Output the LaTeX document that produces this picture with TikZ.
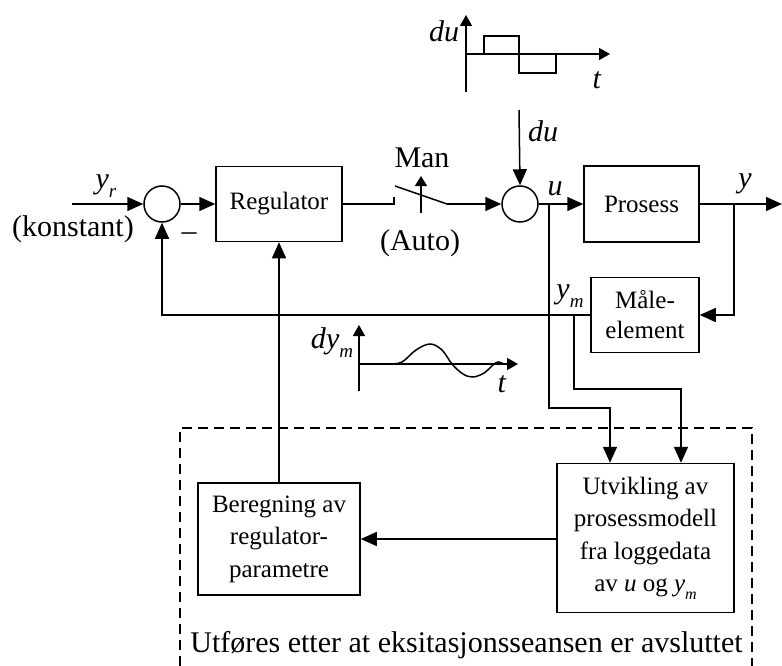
\documentclass[tikz,border=0pt]{standalone}
\usepackage{fontspec}
\setmainfont{Liberation Serif}
\usetikzlibrary{arrows.meta}
\newcommand{\isub}[3][19]{\textit{#2}\raisebox{-0.3em}{\fontsize{#1}{#1}\selectfont\textit{#3}}}
\begin{document}
\begin{tikzpicture}[x=1pt,y=-1pt,line width=1.5pt,
  blk/.style={draw, rectangle, inner sep=0pt, align=center, font=\fontsize{25}{32.5}\selectfont},
  sumc/.style={draw, circle, minimum size=36pt, inner sep=0pt},
  lbl/.style={font=\fontsize{30}{30}\selectfont, inner sep=0pt},
  arr/.style={-{Triangle[length=16pt,width=14pt]}},
  marr/.style={-{Triangle[length=11pt,width=12pt]}},
  frame/.style={dash pattern=on 10pt off 6pt}]
\useasboundingbox (0,0) rectangle (782,666);

% blocks
\node[sumc] (s1) at (162,204) {};
\node[blk, minimum width=126pt, minimum height=75pt] (reg) at (279,204) {Regulator};
\node[sumc] (s2) at (520,204) {};
\node[blk, minimum width=115pt, minimum height=76pt] (proc) at (641.5,204) {Prosess};
\node[blk, minimum width=108pt, minimum height=75pt, font=\fontsize{25}{30}\selectfont] (meas) at (645,315) {Måle-\\element};
\node[blk, minimum width=162pt, minimum height=112pt] (ber) at (279,539) {Beregning av\\regulator-\\parametre};
\node[blk, minimum width=177pt, minimum height=149pt] (utv) at (645.5,538) {Utvikling av\\prosessmodell\\fra loggedata\\av \textit{u} og \isub[16]{y}{m}};

% coordinates
\coordinate (in) at (72,204);
\coordinate (sw1) at (394,204);
\coordinate (sw1t) at (394,197);
\coordinate (swa) at (395,186);
\coordinate (swb) at (447,204);
\coordinate (manb) at (421,213);
\coordinate (mant) at (421,176);
\coordinate (du0) at (519,110);
\coordinate (tapu) at (549,204);
\coordinate (tapy) at (734,204);
\coordinate (yend) at (782,204);
\coordinate (ucorner) at (549,408);
\coordinate (uin) at (610,408);
\coordinate (ymtap) at (574,315);
\coordinate (ymcorner) at (574,389);
\coordinate (ymin) at (681,389);

% labels
\node[lbl] (lyr) at (106,186) {\isub{y}{r}};
\node[lbl] (lkon) at (73,229) {(konstant)};
\node[lbl] (lminus) at (189,237) {–};
\node[lbl] (lman) at (422,158) {Man};
\node[lbl] (lauto) at (420,243) {(Auto)};
\node[lbl] (ldu) at (543,131) {\textit{du}};
\node[lbl] (lu) at (555,189) {\textit{u}};
\node[lbl] (ly) at (745,184) {\textit{y}};
\node[lbl] (lym) at (570,296) {\isub{y}{m}};
\node[lbl, anchor=base] (lbot) at (466.5,652) {Utføres etter at eksitasjonsseansen er avsluttet};

% signal lines
\draw[arr] (in) -- (s1.west);
\draw[arr] (s1.east) -- (reg.west);
\draw (reg.east) -- (sw1) -- (sw1t);
\draw (swa) -- (swb);
\draw[arr] (swb) -- (s2.west);
\draw[-{Triangle[length=10pt,width=12pt]}] (manb) -- (mant);
\draw[arr] (du0) -- (s2.north);
\draw[arr] (s2.east) -- (proc.west);
\draw[arr] (proc.east) -- (yend);
\draw[arr] (tapy) |- (meas.east);
\draw[arr] (meas.west) -| (s1.south);
\draw[arr] (ber.north) -- (reg.south);
\draw[arr] (tapu) -- (ucorner) -| (uin |- utv.north);
\draw[arr] (ymtap) -- (ymcorner) -| (ymin |- utv.north);
\draw[arr] (utv.west |- ber.east) -- (ber.east);

% dashed frame
\draw[frame] (180,666) -- (180,428) -- (752,428) -- (752,666);

% mini graph du
\coordinate (g1o) at (466,54);
\draw[marr] (466,92) -- (466,15);
\draw[marr] (g1o) -- (610,54);
\draw (484,54) -- (484,36) -- (519,36) -- (519,73) -- (556,73) -- (556,54);
\node[lbl] (g1du) at (444,31) {\textit{du}};
\node[lbl] (g1t) at (597,80) {\textit{t}};

% mini graph dy_m
\coordinate (g2o) at (359,364);
\draw[marr] (359,391) -- (359,325);
\draw[marr] (g2o) -- (518,364);
\draw plot[smooth, tension=0.6] coordinates {(390,364) (402,362) (416,350) (430,344) (442,350) (452,364) (463,374) (473,377) (484,373) (493,365) (498,362) (504,364)};
\node[lbl] (g2dy) at (332,343) {\textit{d}\isub{y}{m}};
\node[lbl] (g2t) at (502,384) {\textit{t}};
\end{tikzpicture}
\end{document}
